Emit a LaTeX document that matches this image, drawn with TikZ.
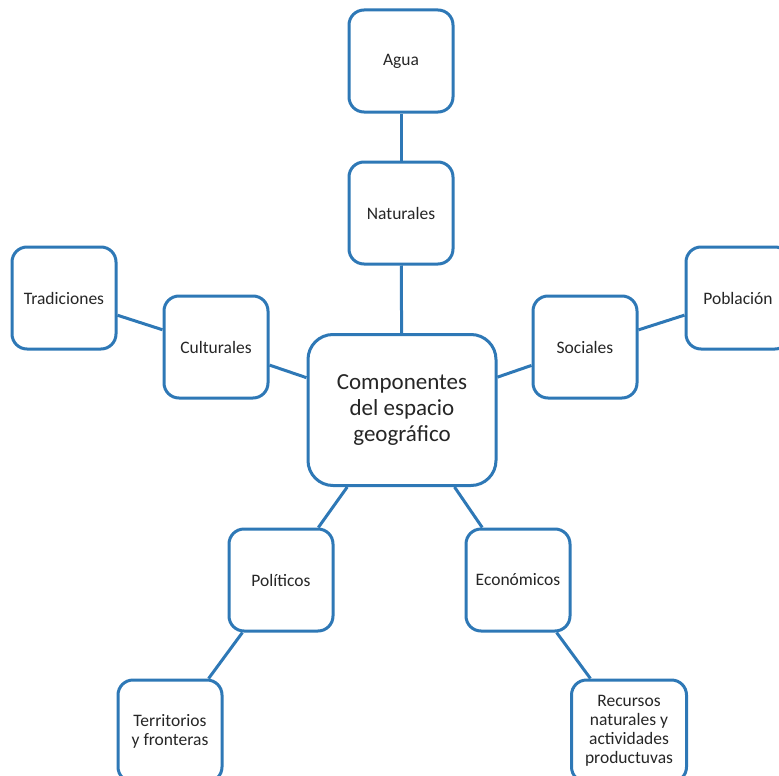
\documentclass[tikz,border=0pt]{standalone}
\usepackage{fontspec}
\setmainfont{Carlito}
\usepackage{xcolor}
\usetikzlibrary{positioning}
\definecolor{boxblue}{RGB}{46,120,182}
\definecolor{txtgray}{RGB}{38,38,38}

\begin{document}
\begin{tikzpicture}[x=1pt,y=-1pt,
  every node/.style={font=\fontsize{17.5}{19}\selectfont,text=txtgray},
  box/.style={draw=boxblue,line width=3pt,fill=white,rounded corners=15pt,align=center,
    inner sep=0pt,minimum width=104pt,minimum height=102pt},
  link/.style={draw=boxblue,line width=3pt}
]
  \useasboundingbox (0,0) rectangle (779,776);
  \clip (0,0) rectangle (779,776);

  \node[box,minimum width=188pt,minimum height=151pt,rounded corners=25pt,
    font=\fontsize{23}{26}\selectfont] (comp) at (402,410)
    {Componentes\\del espacio\\geográfico};
  \node[box] (nat) at (401,213) {Naturales};
  \node[box] (agua) at (401,61) {Agua};
  \node[box] (cult) at (216,347) {Culturales};
  \node[box] (trad) at (64,298) {Tradiciones};
  \node[box] (soc) at (585,347) {Sociales};
  \node[box] (pob) at (738,298) {Población};
  \node[box] (pol) at (281,580) {Políticos};
  \node[box] (terr) at (170,731) {Territorios\\y fronteras};
  \node[box,minimum width=104pt] (eco) at (518,580) {Económicos};
  \node[box,minimum width=115pt] (rec) at (629,731)
    {Recursos\\naturales y\\actividades\\productuvas};

  \draw[link] (comp) -- (nat);
  \draw[link] (nat) -- (agua);
  \draw[link] (comp) -- (cult);
  \draw[link] (cult) -- (trad);
  \draw[link] (comp) -- (soc);
  \draw[link] (soc) -- (pob);
  \draw[link] (comp) -- (pol);
  \draw[link] (pol) -- (terr);
  \draw[link] (comp) -- (eco);
  \draw[link] (eco) -- (rec);
\end{tikzpicture}
\end{document}
